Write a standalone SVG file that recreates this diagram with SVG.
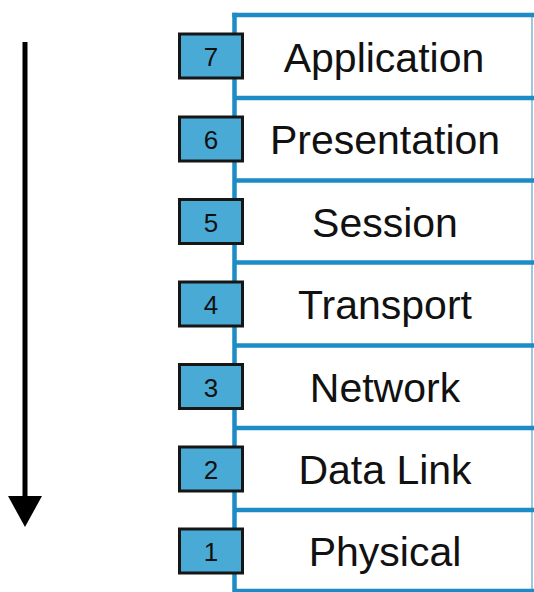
<svg xmlns="http://www.w3.org/2000/svg" width="534" height="592" viewBox="0 0 534 592">
  <style>
    .frame { stroke: #1c8bc6; stroke-width: 4.5; fill: none; }
    .edge { stroke: #7fb3cf; stroke-width: 1.5; fill: none; }
    .badge { fill: #4aaad6; stroke: #161616; stroke-width: 3; }
    .num { font-family: "Liberation Sans", Arial, sans-serif; font-size: 26px; fill: #111; text-anchor: middle; }
    .name { font-family: "Liberation Sans", Arial, sans-serif; font-size: 41px; fill: #111; text-anchor: middle; }
  </style>
  <rect width="534" height="592" fill="#ffffff"/>

  <!-- direction arrow -->
  <g id="arrow">
    <line x1="25" y1="42" x2="25" y2="498" stroke="#000" stroke-width="5"/>
    <polygon points="8,496 42,496 25,527" fill="#000"/>
  </g>

  <!-- layer stack outline -->
  <g id="frame">
    <line class="edge" x1="532" y1="15" x2="532" y2="591"/>
    <line class="frame" x1="234.5" y1="12.8" x2="234.5" y2="592"/>
    <line class="frame" x1="232.3" y1="15" x2="534" y2="15"/>
    <line class="frame" x1="234.5" y1="98" x2="534" y2="98"/>
    <line class="frame" x1="234.5" y1="180.5" x2="534" y2="180.5"/>
    <line class="frame" x1="234.5" y1="262.5" x2="534" y2="262.5"/>
    <line class="frame" x1="234.5" y1="345.5" x2="534" y2="345.5"/>
    <line class="frame" x1="234.5" y1="428" x2="534" y2="428"/>
    <line class="frame" x1="234.5" y1="510" x2="534" y2="510"/>
    <line class="frame" x1="234.5" y1="591" x2="534" y2="591"/>
  </g>

  <g id="layer7">
    <rect class="badge" x="179.5" y="34" width="63" height="44"/>
    <text class="num" x="211" y="66">7</text>
    <text class="name" x="384" y="72">Application</text>
  </g>
  <g id="layer6">
    <rect class="badge" x="179.5" y="117" width="63" height="44"/>
    <text class="num" x="211" y="149">6</text>
    <text class="name" x="385" y="154">Presentation</text>
  </g>
  <g id="layer5">
    <rect class="badge" x="179.5" y="199.5" width="63" height="44"/>
    <text class="num" x="211" y="231.5">5</text>
    <text class="name" x="385" y="236.5">Session</text>
  </g>
  <g id="layer4">
    <rect class="badge" x="179.5" y="282" width="63" height="44"/>
    <text class="num" x="211" y="314">4</text>
    <text class="name" x="385" y="319">Transport</text>
  </g>
  <g id="layer3">
    <rect class="badge" x="179.5" y="364.5" width="63" height="44"/>
    <text class="num" x="211" y="396.5">3</text>
    <text class="name" x="385" y="401.5">Network</text>
  </g>
  <g id="layer2">
    <rect class="badge" x="179.5" y="447" width="63" height="44"/>
    <text class="num" x="211" y="479">2</text>
    <text class="name" x="385" y="484">Data Link</text>
  </g>
  <g id="layer1">
    <rect class="badge" x="179.5" y="529" width="63" height="44"/>
    <text class="num" x="211" y="561">1</text>
    <text class="name" x="385" y="566">Physical</text>
  </g>
</svg>
